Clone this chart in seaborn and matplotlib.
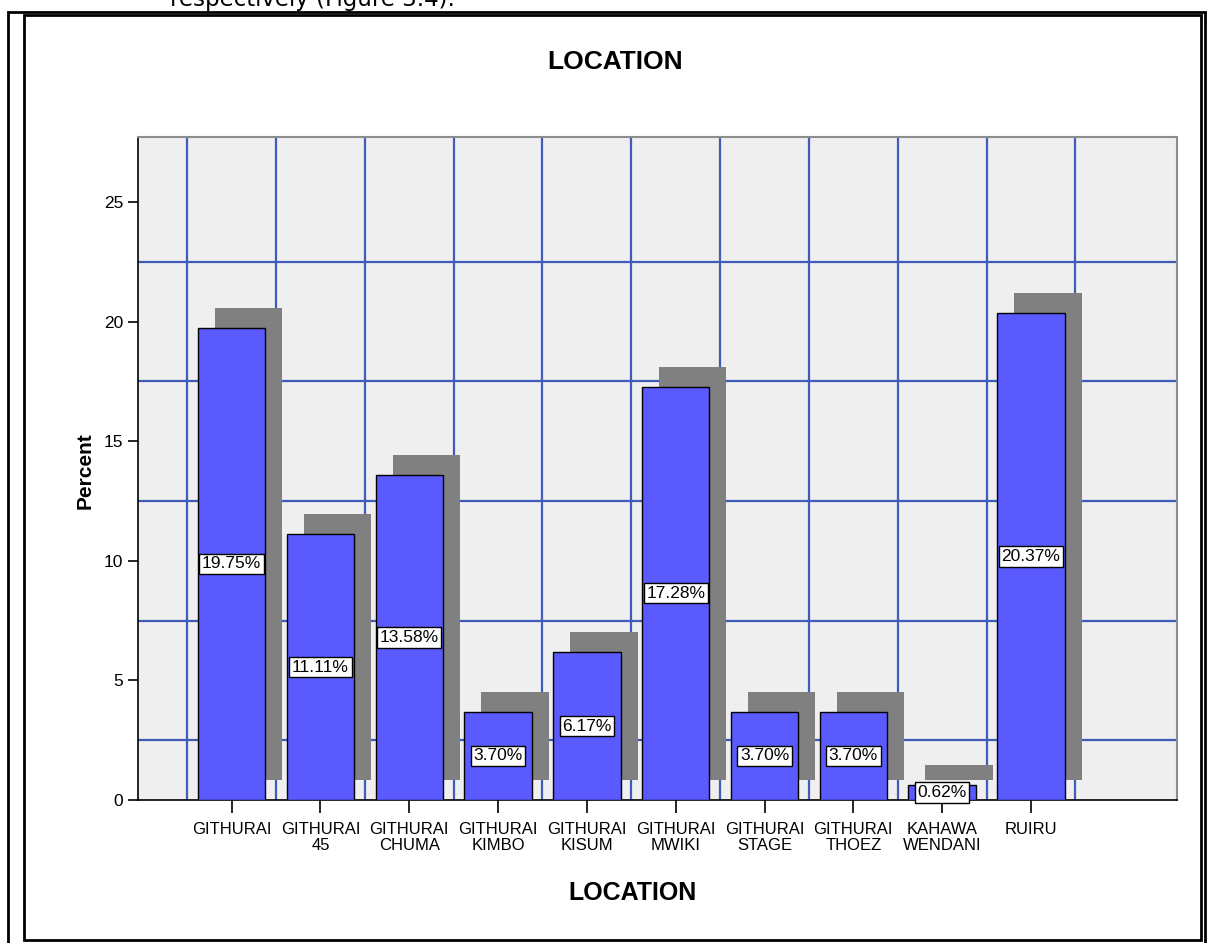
import matplotlib
matplotlib.use("Agg")
import matplotlib.pyplot as plt
import matplotlib.transforms as mtransforms
from matplotlib.patches import Rectangle
import numpy as np
import pandas as pd
import seaborn as sns

# Survey responses by location (percent of respondents)
locations = [
    "GITHURAI", "GITHURAI\n45", "GITHURAI\nCHUMA", "GITHURAI\nKIMBO",
    "GITHURAI\nKISUM", "GITHURAI\nMWIKI", "GITHURAI\nSTAGE", "GITHURAI\nTHOEZ",
    "KAHAWA\nWENDANI", "RUIRU",
]
percents = [19.75, 11.11, 13.58, 3.70, 6.17, 17.28, 3.70, 3.70, 0.62, 20.37]
y_ticks = [0, 5, 10, 15, 20, 25]

df = pd.DataFrame({"location": locations, "percent": percents})

sns.set_style("white")
plt.rcParams["font.family"] = ["Liberation Sans", "DejaVu Sans"]
plt.rcParams["text.color"] = "black"
plt.rcParams["axes.labelcolor"] = "black"
plt.rcParams["xtick.color"] = "black"
plt.rcParams["ytick.color"] = "black"

W, H = 1208, 943
fig = plt.figure(figsize=(W / 100, H / 100), dpi=100)

def fx(px):
    return px / W

def fy(py):
    return 1 - py / H

ax = fig.add_axes([fx(138), fy(800), fx(1177) - fx(138), fy(137) - fy(800)])
ax.set_facecolor("#efefef")

BAR_BLUE = "#5a5aff"
SHADOW = "#808080"
GRID_BLUE = "#3f5cb8"

# Drop shadow: same bars, shifted right and up in screen space
sns.barplot(data=df, x="location", y="percent", color=SHADOW, saturation=1,
            width=0.76, linewidth=0, ax=ax, zorder=2)
shadow_tf = mtransforms.offset_copy(ax.transData, fig=fig, x=17, y=20, units="dots")
for p in list(ax.patches):
    p.set_transform(shadow_tf)

# Main bars
sns.barplot(data=df, x="location", y="percent", color=BAR_BLUE, saturation=1,
            width=0.76, edgecolor="black", linewidth=1.0, ax=ax, zorder=3)

# Grid lines between categories and at half-steps of the value axis
for xv in np.arange(-0.5, len(locations), 1.0):
    ax.axvline(xv, color=GRID_BLUE, lw=1.6, zorder=1)
for yv in np.arange(2.5, 25, 5.0):
    ax.axhline(yv, color=GRID_BLUE, lw=1.6, zorder=1)

# Value labels in the middle of each bar
for i, v in enumerate(percents):
    ax.text(i, v / 2, f"{v:.2f}%", ha="center", va="center", fontsize=12.5,
            zorder=5,
            bbox=dict(boxstyle="square,pad=0.15", facecolor="white",
                      edgecolor="black", linewidth=1.0))

ax.set_xlim(-1.055, 10.645)
ax.set_ylim(0, 27.72)
ax.set_yticks(y_ticks)
ax.set_yticklabels([str(t) for t in y_ticks])
ax.tick_params(axis="y", direction="out", length=7, width=1.2, labelsize=12.5,
               pad=3.5, left=True)
ax.tick_params(axis="x", direction="out", length=9.5, width=1.2, labelsize=12,
               pad=6, bottom=True)
for lbl in ax.get_xticklabels():
    lbl.set_linespacing(1.15)

for side in ("left", "bottom"):
    ax.spines[side].set_color("black")
    ax.spines[side].set_linewidth(1.2)
for side in ("top", "right"):
    ax.spines[side].set_color("#8c8c8c")
    ax.spines[side].set_linewidth(1.5)

ax.set_xlabel("")
ax.set_ylabel("")

# Titles
fig.text(fx(615), fy(62), "LOCATION", ha="center", va="center",
         fontsize=19, fontweight="bold")
fig.text(fx(632), fy(893), "LOCATION", ha="center", va="center",
         fontsize=18, fontweight="bold")
fig.text(fx(85), fy(471), "Percent", ha="center", va="center",
         rotation=90, fontsize=15, fontweight="bold")

# Running text of the surrounding document, clipped by the page edge
fig.text(fx(170), fy(6), "respectively (Figure 3.4).", ha="left",
         va="baseline", fontsize=16.5, family="DejaVu Sans")

# Outer and inner frames
fig.add_artist(Rectangle((fx(8), fy(952)), fx(1205) - fx(8), fy(12) - fy(952),
                         transform=fig.transFigure, fill=False,
                         edgecolor="black", linewidth=2.0))
fig.add_artist(Rectangle((fx(24), fy(940)), fx(1201) - fx(24), fy(15) - fy(940),
                         transform=fig.transFigure, fill=False,
                         edgecolor="black", linewidth=2.0))

fig.savefig("out.png", dpi=100)
